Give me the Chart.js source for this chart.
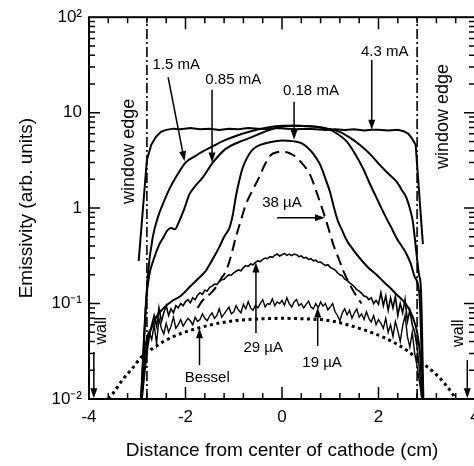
<!DOCTYPE html>
<html>
<head>
<meta charset="utf-8">
<script src="https://cdn.jsdelivr.net/npm/chart.js@4.4.1/dist/chart.umd.min.js"></script>
<style>
  html, body { margin: 0; padding: 0; background: #fff; overflow: hidden; }
  #wrap { width: 490px; height: 466px; }
</style>
</head>
<body>
<div id="wrap"><canvas id="emis" width="490" height="466"></canvas></div>
<script>
// ---- data (x in cm, emissivity in arb. units) ----
const x43 = [-2.97, -2.80, -2.71, -2.61, -2.51, -2.4, -2.25, -2.1, -1.9, -1.7, -1.5, -1.3, -1.1, -0.9, -0.7, -0.5, -0.3, -0.1, 0.1, 0.3, 0.5, 0.7, 0.9, 1.1, 1.3, 1.5, 1.7, 1.86, 2.0, 2.2, 2.4, 2.52, 2.62, 2.7, 2.77, 2.92];
const y43 = [0.28, 3.2, 4.6, 5.6, 6.3, 6.6, 6.8, 6.7, 6.9, 6.7, 6.8, 6.6, 6.8, 6.7, 6.9, 6.8, 6.7, 6.9, 6.8, 6.7, 6.8, 6.7, 6.6, 6.7, 6.6, 6.7, 6.5, 6.6, 6.6, 6.5, 6.6, 6.4, 6.0, 5.3, 4.6, 0.42];

const x15 = [-2.92, -2.85, -2.78, -2.68, -2.58, -2.47, -2.33, -2.2, -2.0, -1.8, -1.65, -1.45, -1.24, -1.0, -0.68, -0.35, 0.0, 0.35, 0.7, 0.95, 1.2, 1.4, 1.61, 1.82, 2.02, 2.2, 2.37, 2.5, 2.58, 2.66, 2.71, 2.75, 2.78, 2.84, 2.88, 2.93];
const y15 = [0.01, 0.05, 0.2, 0.49, 0.78, 1.1, 1.6, 2.1, 3.0, 3.5, 3.9, 4.4, 5.0, 5.6, 6.3, 6.9, 7.3, 7.3, 7.1, 6.8, 6.3, 5.5, 4.6, 3.7, 2.85, 2.3, 1.9, 1.5, 1.28, 0.95, 0.73, 0.5, 0.36, 0.2, 0.14, 0.01];

const x085 = [-2.92, -2.82, -2.75, -2.65, -2.54, -2.45, -2.38, -2.3, -2.22, -2.13, -2.02, -1.92, -1.8, -1.65, -1.44, -1.3, -1.16, -0.9, -0.68, -0.4, -0.13, 0.2, 0.6, 0.99, 1.15, 1.34, 1.5, 1.68, 1.82, 1.96, 2.06, 2.16, 2.27, 2.37, 2.48, 2.58, 2.67, 2.75, 2.85, 2.92];
const y085 = [0.01, 0.1, 0.2, 0.3, 0.42, 0.5, 0.58, 0.62, 0.6, 0.73, 1.0, 1.39, 1.7, 2.07, 2.97, 3.6, 4.2, 4.9, 5.4, 6.2, 6.9, 7.3, 7.2, 6.6, 6.0, 5.0, 3.8, 2.6, 1.8, 1.28, 1.0, 0.79, 0.62, 0.49, 0.4, 0.33, 0.26, 0.19, 0.12, 0.01];

const x018 = [-2.92, -2.82, -2.71, -2.61, -2.45, -2.27, -2.1, -1.92, -1.75, -1.58, -1.44, -1.30, -1.2, -1.09, -1.02, -0.96, -0.89, -0.82, -0.72, -0.61, -0.45, -0.25, 0.0, 0.25, 0.4, 0.51, 0.65, 0.79, 0.89, 0.99, 1.08, 1.16, 1.25, 1.34, 1.47, 1.61, 1.78, 1.96, 2.1, 2.23, 2.37, 2.51, 2.62, 2.71, 2.8, 2.86, 2.92];
const y018 = [0.01, 0.038, 0.055, 0.072, 0.09, 0.107, 0.12, 0.148, 0.18, 0.22, 0.29, 0.39, 0.5, 0.62, 0.85, 1.29, 1.9, 2.6, 3.4, 4.1, 4.6, 4.9, 5.1, 5.0, 4.8, 4.4, 3.7, 2.85, 2.1, 1.5, 1.0, 0.73, 0.58, 0.46, 0.37, 0.30, 0.24, 0.20, 0.17, 0.148, 0.125, 0.107, 0.09, 0.072, 0.05, 0.03, 0.01];

const x38 = [-1.75, -1.65, -1.5, -1.37, -1.27, -1.16, -1.06, -0.96, -0.85, -0.75, -0.62, -0.48, -0.35, -0.23, -0.1, 0.0, 0.1, 0.23, 0.4, 0.58, 0.72, 0.85, 0.96, 1.06, 1.17, 1.27, 1.4, 1.54, 1.65];
const y38 = [0.09, 0.107, 0.125, 0.148, 0.18, 0.22, 0.31, 0.49, 0.75, 1.09, 1.5, 2.07, 2.9, 3.6, 3.85, 3.9, 3.85, 3.6, 3.0, 2.24, 1.45, 0.93, 0.62, 0.42, 0.3, 0.22, 0.16, 0.12, 0.1];

const xNoisy = [-2.9, -2.85, -2.8, -2.75, -2.7, -2.65, -2.6, -2.55, -2.5, -2.45, -2.4, -2.35, -2.3, -2.25, -2.2, -2.15, -2.1, -2.05, -2.0, -1.95, -1.9, -1.85, -1.8, -1.75, -1.7, -1.65, -1.6, -1.55, -1.5, -1.45, -1.4, -1.35, -1.3, -1.25, -1.2, -1.15, -1.1, -1.05, -1.0, -0.95, -0.9, -0.85, -0.8, -0.75, -0.7, -0.65, -0.6, -0.55, -0.5, -0.45, -0.4, -0.35, -0.3, -0.25, -0.2, -0.15, -0.1, -0.05, 0.0, 0.05, 0.1, 0.15, 0.2, 0.25, 0.3, 0.35, 0.4, 0.45, 0.5, 0.55, 0.6, 0.65, 0.7, 0.75, 0.8, 0.85, 0.9, 0.95, 1.0, 1.05, 1.1, 1.15, 1.2, 1.25, 1.3, 1.35, 1.4, 1.45, 1.5, 1.55, 1.6, 1.65, 1.7, 1.75, 1.8, 1.85, 1.9, 1.95, 2.0, 2.05, 2.1, 2.15, 2.2, 2.25, 2.3, 2.35, 2.4, 2.45, 2.5, 2.55, 2.6, 2.65, 2.7, 2.75, 2.8, 2.85, 2.9];
const y29 = [0.01, 0.018, 0.03, 0.045, 0.06, 0.075, 0.058, 0.09, 0.065, 0.08, 0.095, 0.075, 0.088, 0.08, 0.095, 0.09, 0.1, 0.095, 0.105, 0.11, 0.102, 0.115, 0.11, 0.122, 0.13, 0.125, 0.138, 0.135, 0.148, 0.152, 0.16, 0.158, 0.17, 0.178, 0.18, 0.192, 0.2, 0.198, 0.21, 0.218, 0.225, 0.22, 0.238, 0.25, 0.245, 0.26, 0.255, 0.27, 0.28, 0.275, 0.29, 0.3, 0.295, 0.31, 0.305, 0.32, 0.33, 0.315, 0.325, 0.335, 0.32, 0.33, 0.318, 0.33, 0.325, 0.31, 0.315, 0.3, 0.305, 0.29, 0.295, 0.28, 0.285, 0.27, 0.272, 0.26, 0.25, 0.255, 0.24, 0.232, 0.225, 0.21, 0.2, 0.195, 0.18, 0.175, 0.165, 0.158, 0.15, 0.14, 0.135, 0.128, 0.12, 0.118, 0.11, 0.115, 0.1, 0.108, 0.098, 0.13, 0.095, 0.12, 0.085, 0.115, 0.09, 0.12, 0.075, 0.1, 0.08, 0.11, 0.065, 0.085, 0.06, 0.05, 0.035, 0.02, 0.01];
const y19 = [0.011, 0.02, 0.035, 0.05, 0.042, 0.06, 0.038, 0.07, 0.055, 0.048, 0.062, 0.05, 0.058, 0.072, 0.055, 0.06, 0.068, 0.058, 0.064, 0.07, 0.066, 0.06, 0.072, 0.065, 0.068, 0.078, 0.07, 0.066, 0.074, 0.08, 0.07, 0.075, 0.088, 0.072, 0.078, 0.085, 0.092, 0.078, 0.082, 0.095, 0.085, 0.08, 0.098, 0.088, 0.105, 0.09, 0.085, 0.096, 0.09, 0.1, 0.11, 0.092, 0.1, 0.098, 0.112, 0.095, 0.104, 0.1, 0.108, 0.096, 0.115, 0.1, 0.092, 0.104, 0.11, 0.095, 0.1, 0.09, 0.098, 0.106, 0.092, 0.088, 0.1, 0.09, 0.104, 0.094, 0.1, 0.086, 0.092, 0.1, 0.082, 0.075, 0.066, 0.08, 0.088, 0.076, 0.085, 0.07, 0.08, 0.088, 0.072, 0.078, 0.068, 0.082, 0.07, 0.064, 0.075, 0.06, 0.068, 0.062, 0.055, 0.07, 0.05, 0.06, 0.045, 0.065, 0.052, 0.04, 0.058, 0.075, 0.045, 0.035, 0.05, 0.03, 0.022, 0.015, 0.01];

const xBessel = [-3.6, -3.5, -3.3, -3.1, -2.9, -2.6, -2.3, -1.7, -1.1, -0.5, 0.0, 0.5, 1.0, 1.7, 2.2, 2.6, 2.9, 3.2, 3.5, 3.6];
const yBessel = [0.01, 0.0115, 0.016, 0.021, 0.028, 0.036, 0.044, 0.056, 0.065, 0.069, 0.07, 0.069, 0.066, 0.053, 0.042, 0.032, 0.024, 0.018, 0.012, 0.01];

const windowEdges = [-2.8, 2.8];
const yRange = [0.01, 100];

// labels + arrows, in data units: [textX, textY, text, fromX, fromY, toX, toY]
const notes = [
  [-2.19, 32, '1.5 mA', -2.36, 23.5, -2.02, 3.1],
  [-1.01, 22, '0.85 mA', -1.45, 17.4, -1.45, 3.0],
  [0.6, 17, '0.18 mA', 0.25, 13, 0.25, 5.2],
  [2.13, 43, '4.3 mA', 1.86, 35.7, 1.86, 6.6],
  [0.0, 1.13, '38 µA', -0.1, 0.79, 0.89, 0.79],
  [-0.39, 0.034, '29 µA', -0.54, 0.049, -0.54, 0.27],
  [0.83, 0.0237, '19 µA', 0.74, 0.036, 0.74, 0.091],
  [-1.55, 0.0166, 'Bessel', -1.71, 0.0226, -1.71, 0.055]
];
const wallArrows = [[-3.9, 0.031, 0.0102], [3.84, 0.0255, 0.0102]];
const sideTexts = [[-3.16, 3.93, 'window edge', 18], [3.33, 9.1, 'window edge', 18], [-3.73, 0.052, 'wall', 16], [3.66, 0.049, 'wall', 16]];

const FONT = '"Liberation Sans", Arial, Helvetica, sans-serif';

function pts(xs, ys) { return xs.map((x, i) => ({ x: x, y: ys[i] })); }

function solid(xs, ys, w, smooth) {
  return {
    data: pts(xs, ys), showLine: true, borderColor: '#000', borderWidth: w,
    pointRadius: 0, tension: smooth ? 0.4 : 0, cubicInterpolationMode: smooth ? 'monotone' : 'default'
  };
}

const datasets = [
  solid(x43, y43, 2, false),
  solid(x15, y15, 2, true),
  solid(x085, y085, 2, true),
  solid(x018, y018, 2, true),
  Object.assign(solid(x38, y38, 2, true), { borderDash: [11, 6] }),
  solid(xNoisy, y29, 1.6, false),
  solid(xNoisy, y19, 1.4, false),
  Object.assign(solid(xBessel, yBessel, 3, true), { borderDash: [3, 3.5] }),
  Object.assign(solid([windowEdges[0], windowEdges[0]], yRange, 1.6, false), { borderDash: [10, 3, 2, 3] }),
  Object.assign(solid([windowEdges[1], windowEdges[1]], yRange, 1.6, false), { borderDash: [10, 3, 2, 3] })
];

function arrow(ctx, x1, y1, x2, y2) {
  const a = Math.atan2(y2 - y1, x2 - x1), L = 10, H = 3.5;
  ctx.beginPath(); ctx.moveTo(x1, y1); ctx.lineTo(x2 - Math.cos(a) * L * 0.8, y2 - Math.sin(a) * L * 0.8); ctx.stroke();
  ctx.beginPath();
  ctx.moveTo(x2, y2);
  ctx.lineTo(x2 - Math.cos(a) * L + Math.sin(a) * H, y2 - Math.sin(a) * L - Math.cos(a) * H);
  ctx.lineTo(x2 - Math.cos(a) * L - Math.sin(a) * H, y2 - Math.sin(a) * L + Math.cos(a) * H);
  ctx.closePath(); ctx.fill();
}

// frame, inward ticks and annotations
const decor = {
  id: 'decor',
  afterDatasetsDraw(chart) {
    const ctx = chart.ctx, a = chart.chartArea, sx = chart.scales.x, sy = chart.scales.y;
    ctx.save();
    ctx.strokeStyle = '#000'; ctx.fillStyle = '#000'; ctx.lineWidth = 2;
    ctx.strokeRect(a.left, a.top, a.right - a.left, a.bottom - a.top);

    ctx.lineWidth = 1.5;
    ctx.beginPath();
    for (let i = 0; i <= 20; i++) {
      const v = -4 + 0.4 * i, px = sx.getPixelForValue(v);
      const len = (i % 5 === 0) ? 12 : 6;
      ctx.moveTo(px, a.bottom); ctx.lineTo(px, a.bottom - len);
      ctx.moveTo(px, a.top); ctx.lineTo(px, a.top + len);
    }
    for (let d = -2; d <= 1; d++) {
      for (let m = 1; m <= 9; m++) {
        const py = sy.getPixelForValue(m * Math.pow(10, d));
        const len = m === 1 ? 11 : 6;
        ctx.moveTo(a.left, py); ctx.lineTo(a.left + len, py);
        ctx.moveTo(a.right, py); ctx.lineTo(a.right - len, py);
      }
    }
    ctx.stroke();

    ctx.lineWidth = 1.5;
    ctx.textAlign = 'center'; ctx.textBaseline = 'middle';
    ctx.font = '15px ' + FONT;
    notes.forEach(n => {
      ctx.fillText(n[2], sx.getPixelForValue(n[0]), sy.getPixelForValue(n[1]));
      arrow(ctx, sx.getPixelForValue(n[3]), sy.getPixelForValue(n[4]), sx.getPixelForValue(n[5]), sy.getPixelForValue(n[6]));
    });
    wallArrows.forEach(w => {
      const px = sx.getPixelForValue(w[0]);
      arrow(ctx, px, sy.getPixelForValue(w[1]), px, sy.getPixelForValue(w[2]));
    });
    sideTexts.forEach(t => {
      ctx.save();
      ctx.translate(sx.getPixelForValue(t[0]), sy.getPixelForValue(t[1]));
      ctx.rotate(-Math.PI / 2);
      ctx.font = t[3] + 'px ' + FONT;
      ctx.fillText(t[2], 0, 0);
      ctx.restore();
    });
    ctx.restore();
  }
};

const supLabels = { '-2': '10\u207B\u00B2', '-1': '10\u207B\u00B9', '0': '1', '1': '10', '2': '10\u00B2' };

new Chart(document.getElementById('emis'), {
  type: 'scatter',
  data: { datasets: datasets },
  options: {
    responsive: false,
    animation: false,
    layout: { padding: { top: 15, right: 15, left: 0, bottom: 0 } },
    plugins: { legend: { display: false }, tooltip: { enabled: false } },
    scales: {
      x: {
        type: 'linear', min: -4, max: 4,
        grid: { display: false, drawTicks: false }, border: { display: false },
        ticks: { stepSize: 2, color: '#000', padding: 8, font: { family: FONT, size: 17 } },
        title: { display: true, text: 'Distance from center of cathode (cm)', color: '#000', padding: { top: 0, bottom: 4 }, font: { family: FONT, size: 19 } },
        afterFit: s => { s.height = 67; }
      },
      y: {
        type: 'logarithmic', min: 0.01, max: 100,
        grid: { display: false, drawTicks: false }, border: { display: false },
        ticks: {
          autoSkip: false, color: '#000', padding: 7, font: { family: FONT, size: 17 },
          callback: v => {
            const e = Math.log10(v), r = Math.round(e);
            return Math.abs(e - r) < 1e-6 ? supLabels[String(r)] : '';
          }
        },
        title: { display: true, text: 'Emissivity (arb. units)', color: '#000', padding: { top: 15, bottom: 0 }, font: { family: FONT, size: 19 } },
        afterFit: s => { s.width = 89; }
      }
    }
  },
  plugins: [decor]
});
</script>
</body>
</html>
